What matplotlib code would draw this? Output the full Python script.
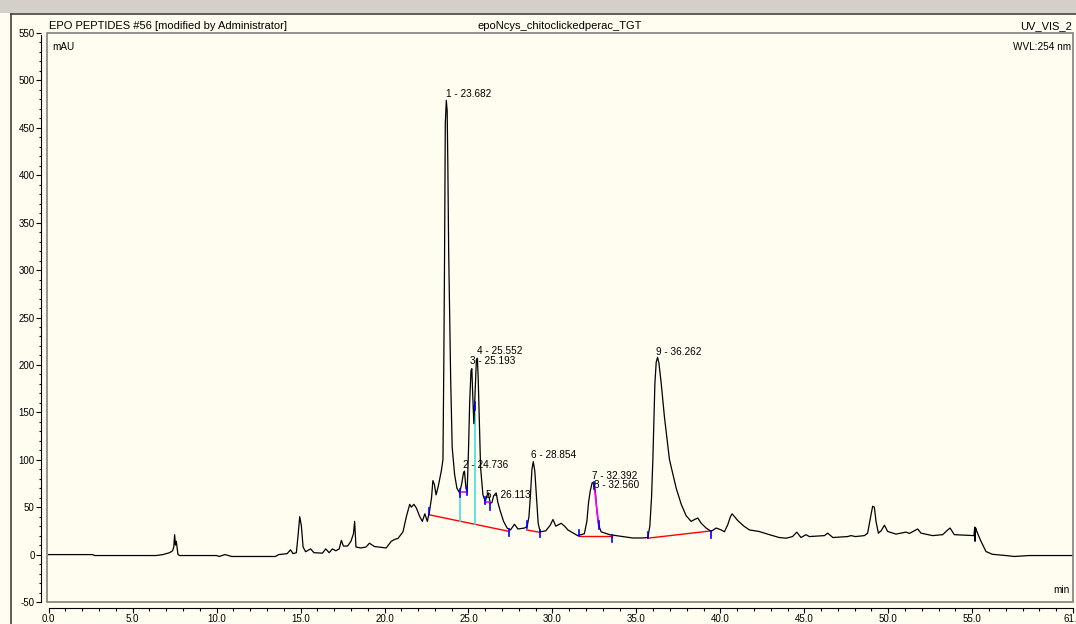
import numpy as np
import matplotlib
matplotlib.use("Agg")
import matplotlib.pyplot as plt
from matplotlib.patches import Rectangle
from matplotlib.lines import Line2D

plt.rcParams['font.family'] = ['Liberation Sans', 'DejaVu Sans']

# chromatogram trace (min, mAU)
trace_t = [0.0, 2.6, 2.75, 6.4, 6.8, 7.2, 7.38, 7.45, 7.5, 7.55, 7.6, 7.7, 7.8,
           10.0, 10.15, 10.5, 10.9, 13.5, 13.7, 14.2, 14.4, 14.55, 14.75, 14.85,
           14.95, 15.05, 15.15, 15.3, 15.6, 15.8, 16.3, 16.5, 16.7, 16.9, 17.1,
           17.3, 17.43, 17.55, 17.8, 18.0, 18.15, 18.22, 18.3, 18.6, 18.9, 19.1,
           19.4, 19.9, 20.1, 20.4, 20.6, 20.8, 21.1, 21.3, 21.5, 21.6, 21.75,
           21.9, 22.1, 22.25, 22.4, 22.55, 22.68, 22.8, 22.88, 22.97, 23.07,
           23.2, 23.38, 23.48, 23.53, 23.57, 23.62, 23.68, 23.73, 23.77, 23.82,
           23.88, 23.94, 24.03, 24.17, 24.31, 24.47, 24.6, 24.7, 24.76, 24.85,
           24.92, 25.0, 25.07, 25.15, 25.2, 25.25, 25.32, 25.4, 25.47, 25.53,
           25.58, 25.65, 25.72, 25.86, 26.0, 26.1, 26.18, 26.3, 26.4, 26.5,
           26.65, 26.75, 26.89, 27.09, 27.3, 27.5, 27.74, 27.94, 28.34, 28.5,
           28.6, 28.68, 28.78, 28.86, 28.95, 29.05, 29.15, 29.27, 29.6, 29.87,
           30.03, 30.2, 30.52, 30.72, 30.92, 31.21, 31.5, 31.9, 32.05, 32.15,
           32.25, 32.37, 32.45, 32.55, 32.65, 32.75, 32.9, 33.4, 33.8, 34.19,
           34.78, 35.38, 35.68, 35.8, 35.9, 35.98, 36.1, 36.18, 36.26, 36.34,
           36.48, 36.67, 36.97, 37.37, 37.67, 37.96, 38.26, 38.46, 38.66, 38.86,
           39.15, 39.45, 39.75, 40.05, 40.24, 40.44, 40.6, 40.7, 41.03, 41.4,
           41.73, 42.3, 42.92, 43.5, 43.92, 44.3, 44.55, 44.8, 45.1, 45.3, 46.2,
           46.39, 46.7, 47.58, 47.78, 48.05, 48.58, 48.77, 48.97, 49.07, 49.17,
           49.27, 49.41, 49.57, 49.77, 49.96, 50.46, 51.06, 51.26, 51.75, 51.95,
           52.64, 53.24, 53.54, 53.68, 53.93, 55.1, 55.15, 55.17, 55.2, 55.26,
           55.52, 55.82, 56.2, 57.0, 57.5, 58.4, 61.0]
trace_mau = [0, 0, -1, -1, 0, 2, 4, 8, 21, 10, 14, 0, -1,
             -1, -2, 0, -2, -2, 0, 1, 5, 1, 2, 20,
             40, 30, 8, 3, 6, 2, 1.5, 6, 2, 6, 4,
             6, 15, 9, 9, 14, 22, 35, 8, 7, 8, 12,
             8.5, 7.5, 7, 14, 16, 17, 24, 40, 53, 50, 53,
             49, 40, 35, 43, 35, 46, 60, 78, 74, 63,
             72, 88, 100, 200, 300, 455, 479, 468, 412, 320,
             250, 184, 113, 85, 70, 65, 75, 86, 88, 70,
             66, 110, 160, 194, 196, 170, 138, 175, 205, 207,
             185, 140, 92, 63, 56, 62, 65, 54, 55, 62,
             65, 55, 46, 35, 28, 26, 32, 27, 28, 30,
             40, 60, 90, 98, 88, 60, 33, 24, 25, 31,
             37, 30, 33, 30, 26, 23, 20, 22, 35, 55,
             67, 76, 75, 68, 45, 31, 24, 21, 20, 19,
             17.5, 17.5, 18, 30, 60, 100, 180, 203, 208, 202,
             180, 145, 100, 70, 53, 41, 35, 37, 38.5, 33,
             28, 24.5, 28, 26, 24, 31.5, 40, 43, 36, 30,
             26, 24.4, 21, 18, 17.3, 19, 23.7, 18, 21, 19, 20,
             22.6, 18, 19, 20, 19, 20, 22.6, 42, 51, 50,
             35, 22.6, 25, 31, 24.4, 21.6, 23.7, 22.3, 27, 22.6,
             20, 21, 26, 28, 21, 20, 29, 14, 28, 25,
             14, 3.2, 0.3, -1, -2, -1, -1]

# peaks
peak_no = [1, 2, 3, 4, 5, 6, 7, 8, 9]
peak_rt = [23.682, 24.736, 25.193, 25.552, 26.113, 28.854, 32.392, 32.560, 36.262]
label_x = [23.68, 24.67, 25.11, 25.50, 26.06, 28.74, 32.34, 32.50, 36.18]
label_y = [483, 91, 201, 211, 60, 101.6, 80, 70, 210]

# integration baselines (start t, start mAU, end t, end mAU)
base_t0 = [22.65, 28.46, 31.57, 35.68]
base_v0 = [42, 26, 20, 17.3]
base_t1 = [27.41, 29.25, 33.54, 39.45]
base_v1 = [24.5, 23.5, 20, 25]
drop_t = [24.47, 25.36]
skim_t0 = [24.47, 26.0, 32.48]
skim_v0 = [66, 55, 73]
skim_t1 = [24.88, 26.3, 32.75]
skim_v1 = [66, 55, 32]
mark_t = [22.65, 24.47, 24.9, 25.36, 25.98, 26.3, 27.41, 28.46, 29.25,
          31.57, 32.48, 32.75, 33.54, 35.68, 39.45]
mark_up = [1, 0, 0, 0, 0, -1, -1, 1, -1, 1, 0, 0, -1, 1, -1]

W, H = 1076, 624
bg = '#FFFCF0'
fig = plt.figure(figsize=(W / 100, H / 100), dpi=100, facecolor=bg)

# window chrome
fig.add_artist(Rectangle((0, 1 - 13 / H), 1, 13 / H, transform=fig.transFigure,
                         facecolor='#D4D0C8', edgecolor='none'))
fig.add_artist(Line2D([11 / W, 1], [1 - 13.5 / H] * 2, color='#404040', lw=1.2))
fig.add_artist(Line2D([11 / W] * 2, [0, 1 - 13.5 / H], color='#404040', lw=1.2))

L, R, T, B = 47, 1073, 33, 602
ax = fig.add_axes([L / W, (H - B) / H, (R - L) / W, (B - T) / H])
ax.set_facecolor(bg)
ax.set_xlim(-0.1, 61.0)
ax.set_ylim(-50, 548)

ax.plot(trace_t, trace_mau, color='black', lw=0.9, zorder=3)

for t0, v0, t1, v1 in zip(base_t0, base_v0, base_t1, base_v1):
    ax.plot([t0, t1], [v0, v1], color='red', lw=1.0, zorder=2)

for t in drop_t:
    i = [k for k in range(len(base_t0)) if base_t0[k] <= t <= base_t1[k]][0]
    vb = np.interp(t, [base_t0[i], base_t1[i]], [base_v0[i], base_v1[i]])
    ax.plot([t, t], [vb, np.interp(t, trace_t, trace_mau)], color='#40E0E0', lw=1.2, zorder=2)

for t0, v0, t1, v1 in zip(skim_t0, skim_v0, skim_t1, skim_v1):
    ax.plot([t0, t1], [v0, v1], color='#FF00FF', lw=1.2, zorder=4)

for t, d in zip(mark_t, mark_up):
    v = np.interp(t, trace_t, trace_mau)
    lo, hi = {1: (v - 1, v + 6), -1: (v - 7, v), 0: (v - 4, v + 4)}[d]
    ax.plot([t, t], [lo, hi], color='#0000FF', lw=1.2, zorder=5)

for n, rt, x, y in zip(peak_no, peak_rt, label_x, label_y):
    ax.text(x, y, f"{n} - {rt:.3f}", fontsize=7.2, va='baseline', ha='left', zorder=6)

# frame box and offset axes
for s in ['top', 'right']:
    ax.spines[s].set_visible(False)
for s in ['left', 'bottom']:
    ax.spines[s].set_position(('outward', 4))
    ax.spines[s].set_linewidth(0.8)
ax.spines['bottom'].set_bounds(0, 61)
ax.spines['left'].set_bounds(-50, 548)
ax.add_patch(Rectangle((0, 0), 1, 1, transform=ax.transAxes, fill=False,
                       edgecolor='#808080', lw=1.2, clip_on=False, zorder=7))

xt = [0, 5, 10, 15, 20, 25, 30, 35, 40, 45, 50, 55, 61]
ax.set_xticks(xt)
ax.set_xticklabels([f"{v:.1f}" for v in xt])
ax.set_xticks(np.arange(0, 61, 1), minor=True)
yt = list(range(-50, 551, 50))
ax.set_yticks(yt)
ax.set_yticklabels([str(v) for v in yt])
ax.set_yticks(np.arange(-50, 548, 10), minor=True)
ax.tick_params(which='major', length=3.5, width=0.8, labelsize=7)
ax.tick_params(which='minor', length=1.8, width=0.8)
ax.tick_params(axis='x', pad=0.8)
ax.tick_params(axis='y', pad=1.5)

ax.text(0.005, 0.985, "mAU", transform=ax.transAxes, fontsize=7.2, va='top', ha='left')
ax.text(0.998, 0.985, "WVL:254 nm", transform=ax.transAxes, fontsize=7.2, va='top', ha='right')
ax.text(0.997, 0.012, "min", transform=ax.transAxes, fontsize=7.2, va='bottom', ha='right')

hy = 1 - 29 / H
fig.text(49 / W, hy, "EPO PEPTIDES #56 [modified by Administrator]", fontsize=8, va='baseline', ha='left')
fig.text(560 / W, hy, "epoNcys_chitoclickedperac_TGT", fontsize=8, va='baseline', ha='center')
fig.text(1072 / W, hy, "UV_VIS_2", fontsize=8, va='baseline', ha='right')

fig.savefig("out.png", dpi=100, facecolor=bg)
